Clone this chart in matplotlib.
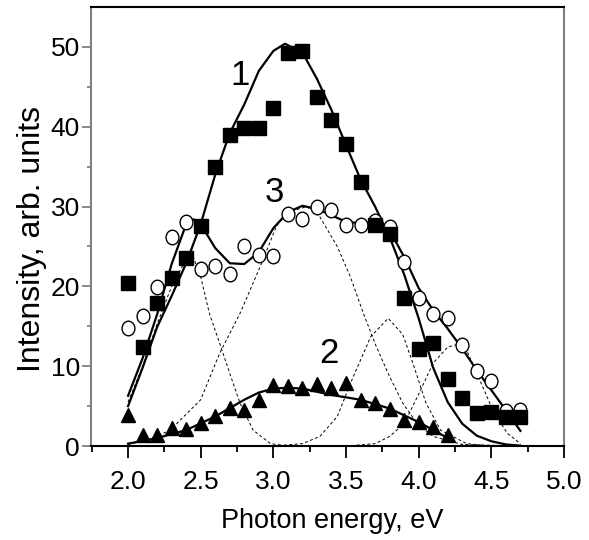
import numpy as np
import matplotlib
matplotlib.use("Agg")
import matplotlib.pyplot as plt
from matplotlib.path import Path
from matplotlib.transforms import Affine2D
from matplotlib.ticker import FixedLocator

plt.rcParams['font.family'] = ['Liberation Sans', 'DejaVu Sans']

# experimental points
energy = [2.0, 2.1, 2.2, 2.3, 2.4, 2.5, 2.6, 2.7, 2.8, 2.9, 3.0, 3.1, 3.2, 3.3,
          3.4, 3.5, 3.6, 3.7, 3.8, 3.9, 4.0, 4.1, 4.2, 4.3, 4.4, 4.5, 4.6, 4.7]
squares = [20.4, 12.4, 17.9, 21.0, 23.6, 27.6, 35.0, 39.0, 39.9, 39.9, 42.3, 49.2, 49.5, 43.7,
           40.9, 37.8, 33.1, 27.7, 26.6, 18.6, 12.2, 12.9, 8.4, 6.0, 4.1, 4.3, 3.7, 3.7]
circles = [14.8, 16.3, 19.9, 26.2, 28.1, 22.2, 22.5, 21.5, 25.0, 23.9, 23.8, 29.1, 28.5, 30.0,
           29.6, 27.7, 27.7, 28.2, 27.4, 23.1, 18.5, 16.6, 16.1, 12.7, 9.4, 8.1, 4.4, 4.5]
energy_tri = [2.0, 2.1, 2.2, 2.3, 2.4, 2.5, 2.6, 2.7, 2.8, 2.9, 3.0, 3.1, 3.2, 3.3,
              3.4, 3.5, 3.6, 3.7, 3.8, 3.9, 4.0, 4.1, 4.2]
triangles = [3.9, 1.4, 1.4, 2.2, 2.1, 2.9, 3.8, 4.8, 4.5, 5.8, 7.6, 7.5, 7.3, 7.8,
             7.3, 7.9, 5.8, 5.4, 4.7, 3.2, 3.0, 2.4, 1.4]

# fitted curves (solid)
fit1_x = [2.0, 2.1, 2.2, 2.3, 2.4, 2.5, 2.6, 2.7, 2.8, 2.9, 3.0, 3.08, 3.2, 3.3,
          3.4, 3.5, 3.6, 3.7, 3.8, 3.9, 4.0, 4.1, 4.2, 4.3, 4.4, 4.5, 4.6, 4.7]
fit1_y = [5.0, 9.8, 14.9, 18.8, 22.9, 27.8, 34.0, 39.2, 42.8, 47.0, 49.5, 50.4, 49.3, 46.0,
          42.1, 37.7, 33.4, 30.0, 26.2, 21.5, 16.0, 9.8, 5.5, 2.8, 1.3, 0.6, 0.2, 0.05]
fit3_x = [2.0, 2.1, 2.2, 2.3, 2.4, 2.45, 2.5, 2.6, 2.7, 2.8, 2.9, 3.0, 3.1, 3.2,
          3.3, 3.4, 3.5, 3.6, 3.7, 3.8, 3.9, 4.0, 4.1, 4.2, 4.3, 4.4, 4.5, 4.6, 4.7]
fit3_y = [6.3, 11.0, 16.5, 22.8, 27.8, 28.4, 27.8, 24.8, 22.9, 22.8, 24.3, 27.3, 29.3, 30.1,
          29.7, 28.9, 28.1, 27.9, 27.9, 27.0, 23.7, 19.8, 17.0, 14.7, 12.2, 9.5, 7.0, 4.5, 1.9]
fit2_x = [2.0, 2.2, 2.4, 2.6, 2.8, 2.9, 3.0, 3.1, 3.2, 3.4, 3.6, 3.8, 4.0, 4.2]
fit2_y = [0.3, 1.0, 2.0, 3.7, 5.8, 6.7, 7.2, 7.3, 7.2, 6.4, 5.8, 4.7, 3.0, 1.0]

# gaussian components of curve 3 (dashed)
compA_x = [2.0, 2.1, 2.2, 2.3, 2.4, 2.45, 2.5, 2.56, 2.63, 2.7, 2.77, 2.86, 2.98, 3.1, 3.2]
compA_y = [5.5, 10.0, 15.3, 20.0, 23.4, 23.6, 21.2, 16.6, 12.9, 9.1, 5.4, 2.0, 0.3, 0.0, 0.0]
compB_x = [2.0, 2.15, 2.29, 2.5, 2.63, 2.77, 2.91, 3.02, 3.1, 3.23, 3.32, 3.44, 3.53,
           3.62, 3.71, 3.8, 3.89, 3.99, 4.1, 4.3, 4.7]
compB_y = [0.2, 0.8, 2.0, 5.8, 11.6, 16.6, 22.5, 27.5, 29.3, 30.0, 28.7, 25.0, 21.2,
           16.6, 12.4, 8.7, 5.4, 2.8, 1.2, 0.2, 0.0]
compC_x = [3.0, 3.2, 3.32, 3.44, 3.55, 3.67, 3.79, 3.89, 3.96, 4.05, 4.15, 4.33, 4.5]
compC_y = [0.0, 0.3, 1.2, 3.7, 8.7, 13.7, 16.0, 14.0, 10.4, 5.4, 2.0, 0.3, 0.0]
compD_x = [3.5, 3.7, 3.8, 3.9, 4.0, 4.1, 4.2, 4.26, 4.33, 4.42, 4.51, 4.61, 4.7]
compD_y = [0.0, 0.3, 1.2, 2.8, 6.5, 10.4, 12.4, 12.7, 12.0, 8.3, 4.5, 1.6, 0.3]

xticks = [2.0, 2.5, 3.0, 3.5, 4.0, 4.5, 5.0]
xtick_labels = ["2.0", "2.5", "3.0", "3.5", "4.0", "4.5", "5.0"]
yticks = [0, 10, 20, 30, 40, 50]

fig = plt.figure(figsize=(5.89, 5.40), dpi=100)
ax = fig.add_axes([0.1545, 0.174, 0.803, 0.813])

for cx, cy in [(compA_x, compA_y), (compB_x, compB_y), (compC_x, compC_y), (compD_x, compD_y)]:
    ax.plot(cx, cy, color='black', lw=0.7, dashes=(3, 2.5))

ax.plot(fit1_x, fit1_y, color='black', lw=1.6)
ax.plot(fit3_x, fit3_y, color='black', lw=1.6)
ax.plot(fit2_x, fit2_y, color='black', lw=1.6)

# slightly tall open circles, like the original
ellipse = Path.unit_circle().transformed(Affine2D().scale(0.88, 1.0))
ax.plot(energy, circles, marker=ellipse, ms=10.5, mfc='white', mec='black', mew=1.0, ls='none')
ax.plot(energy, squares, 's', ms=9.5, mfc='black', mec='black', ls='none')
ax.plot(energy_tri, triangles, '^', ms=10.5, mfc='black', mec='black', ls='none')

ax.text(2.77, 46.4, "1", fontsize=25, ha='center', va='center')
ax.text(3.01, 31.8, "3", fontsize=25, ha='center', va='center')
ax.text(3.38, 11.6, "2", fontsize=25, ha='center', va='center')

ax.set_xlim(1.745, 5.0)
ax.set_ylim(0, 55)
ax.xaxis.set_major_locator(FixedLocator(xticks))
ax.xaxis.set_minor_locator(FixedLocator([1.75, 2.25, 2.75, 3.25, 3.75, 4.25, 4.75]))
ax.set_xticklabels(xtick_labels)
ax.yaxis.set_major_locator(FixedLocator(yticks))
ax.yaxis.set_minor_locator(FixedLocator([5, 15, 25, 35, 45]))

ax.tick_params(axis='both', which='major', labelsize=19, width=1.3, direction='out')
ax.tick_params(axis='x', which='major', length=8.5, pad=9)
ax.tick_params(axis='x', which='minor', length=4.3, width=1.3)
ax.tick_params(axis='y', which='major', length=6.5, pad=1.5, color='#808080')
ax.tick_params(axis='y', which='minor', length=3, width=1.3, color='#808080')

for side in ['left', 'right']:
    ax.spines[side].set_color('#808080')
    ax.spines[side].set_linewidth(1.5)
for side in ['top', 'bottom']:
    ax.spines[side].set_color('black')
    ax.spines[side].set_linewidth(1.5)

fig.text(0.564, 0.036, "Photon energy, eV", fontsize=19.5, ha='center', va='center')
fig.text(0.054, 0.558, "Intensity, arb. units", fontsize=23, rotation=90, ha='center', va='center')

fig.savefig("out.png", dpi=100)
